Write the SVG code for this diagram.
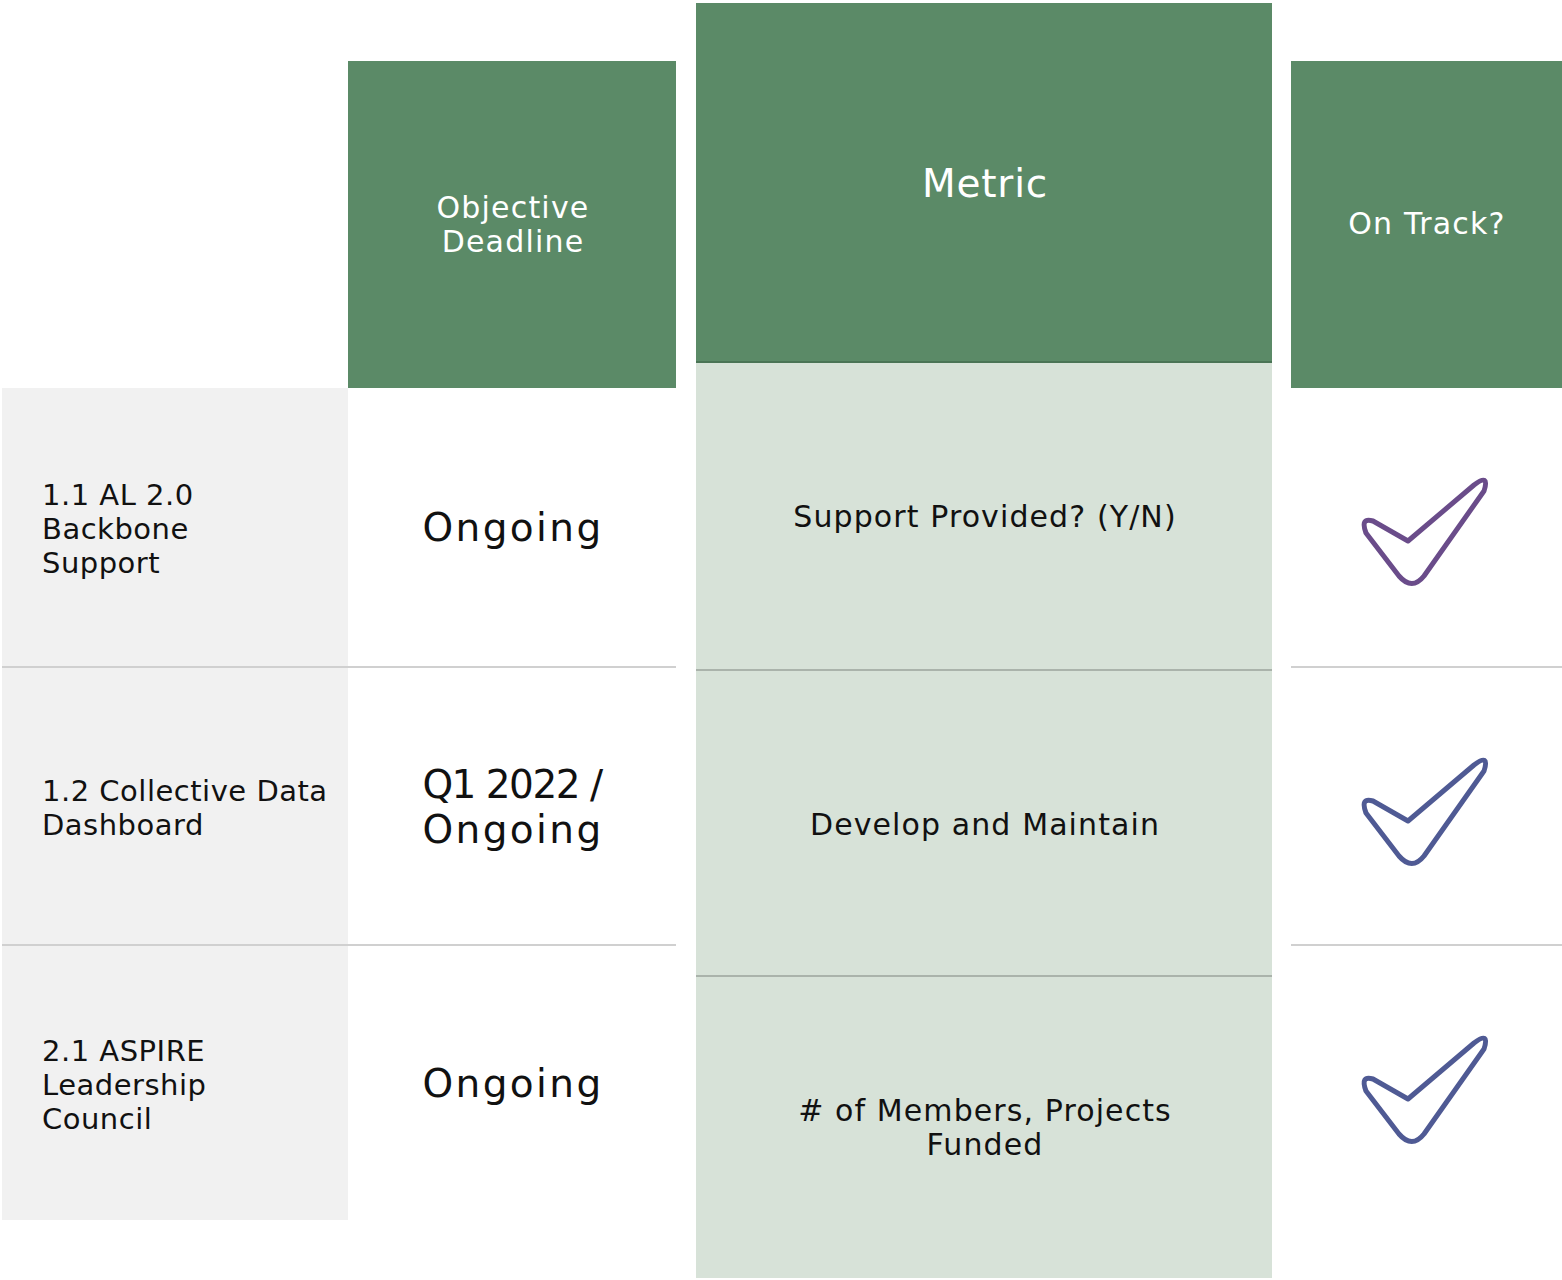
<svg xmlns="http://www.w3.org/2000/svg" width="1562" height="1280" viewBox="0 0 1562 1280">
<style>
text{font-family:"DejaVu Sans","Noto Sans",sans-serif;}
.hd{fill:#5b8a67;}
.hdt{fill:#ffffff;text-anchor:middle;font-size:30px;letter-spacing:1.2px;}
.lbl{fill:#111111;font-size:29px;letter-spacing:0.5px;}
.dl{fill:#111111;font-size:39px;text-anchor:middle;letter-spacing:2.4px;}
.mt{fill:#111111;font-size:30px;text-anchor:middle;letter-spacing:1.1px;}
.sep{stroke:#d0d0d0;stroke-width:2;}
.msep{stroke:#aab3ab;stroke-width:2;}
.chk{fill:none;stroke-width:5;stroke-linejoin:round;}
</style>
<defs>
<path id="tick" d="M1373 521 L1408 541 L1474 485 Q1490 473 1484 491 L1424 576 Q1412 591 1399 576 L1366 533 Q1360 517 1373 521 Z"/>
</defs>
<rect width="1562" height="1280" fill="#ffffff"/>
<g id="row-labels-bg"><rect x="2" y="388" width="346" height="832" fill="#f1f1f1"/></g>
<g id="metric-bg"><rect x="696" y="362" width="576" height="916" fill="#d7e2d8"/></g>
<g id="header-deadline"><rect class="hd" x="348" y="61" width="328" height="327"/><text class="hdt" x="513" y="218">Objective</text><text class="hdt" x="513" y="252">Deadline</text></g>
<g id="header-metric"><rect class="hd" x="696" y="3" width="576" height="359"/><line x1="696" y1="362" x2="1272" y2="362" stroke="#4a7455" stroke-width="2"/><text class="hdt" x="985" y="197" style="font-size:39px;letter-spacing:0.8px">Metric</text></g>
<g id="header-ontrack"><rect class="hd" x="1291" y="61" width="271" height="327"/><text class="hdt" x="1427" y="234">On Track?</text></g>
<g id="connectors">
<line class="sep" x1="2" y1="667" x2="676" y2="667"/>
<line class="sep" x1="2" y1="945" x2="676" y2="945"/>
<line class="sep" x1="1291" y1="667" x2="1562" y2="667"/>
<line class="sep" x1="1291" y1="945" x2="1562" y2="945"/>
<line class="msep" x1="696" y1="670" x2="1272" y2="670"/>
<line class="msep" x1="696" y1="976" x2="1272" y2="976"/>
</g>
<g id="row1">
<text class="lbl" x="42" y="505">1.1 AL 2.0</text><text class="lbl" x="42" y="539">Backbone</text><text class="lbl" x="42" y="573">Support</text>
<text class="dl" x="513" y="541">Ongoing</text>
<text class="mt" x="985" y="527">Support Provided? (Y/N)</text>
<use href="#tick" class="chk" stroke="#6a4c8a"/>
</g>
<g id="row2">
<text class="lbl" x="42" y="801">1.2 Collective Data</text><text class="lbl" x="42" y="835">Dashboard</text>
<text class="dl" x="512" y="798" style="letter-spacing:-1.5px">Q1 2022 /</text><text class="dl" x="513" y="843">Ongoing</text>
<text class="mt" x="985" y="835">Develop and Maintain</text>
<use href="#tick" class="chk" stroke="#4f5a94" transform="translate(0,280)"/>
</g>
<g id="row3">
<text class="lbl" x="42" y="1061">2.1 ASPIRE</text><text class="lbl" x="42" y="1095">Leadership</text><text class="lbl" x="42" y="1129">Council</text>
<text class="dl" x="513" y="1097">Ongoing</text>
<text class="mt" x="985" y="1121"># of Members, Projects</text><text class="mt" x="985" y="1155">Funded</text>
<use href="#tick" class="chk" stroke="#4f5a94" transform="translate(0,558)"/>
</g>
</svg>
